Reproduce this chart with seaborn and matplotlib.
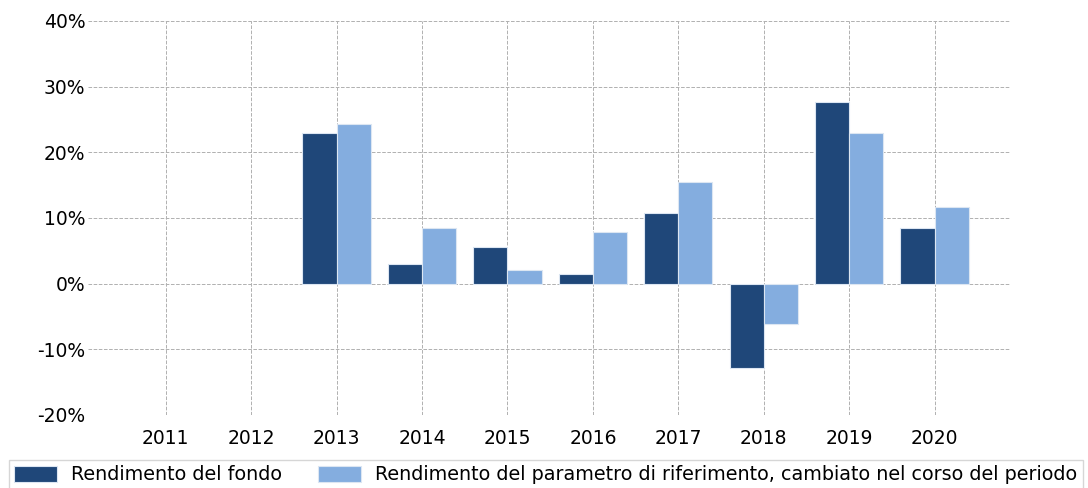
import matplotlib
matplotlib.use('Agg')
import matplotlib.pyplot as plt
import seaborn as sns
import pandas as pd
import numpy as np
from matplotlib.ticker import FuncFormatter

years = ['2011', '2012', '2013', '2014', '2015', '2016', '2017', '2018', '2019', '2020']
fondo = [np.nan, np.nan, 23.0, 3.0, 5.6, 1.4, 10.8, -12.9, 27.7, 8.4]
parametro = [np.nan, np.nan, 24.3, 8.4, 2.0, 7.8, 15.5, -6.2, 23.0, 11.7]
series_names = ['Rendimento del fondo',
                'Rendimento del parametro di riferimento, cambiato nel corso del periodo']
colors = ['#1f4779', '#84addf']

df = pd.DataFrame({
    'anno': years * 2,
    'valore': fondo + parametro,
    'serie': [series_names[0]] * len(years) + [series_names[1]] * len(years),
})

sns.set_style('white')
plt.rcParams['font.family'] = ['DejaVu Sans']
plt.rcParams['text.color'] = 'black'
plt.rcParams['xtick.color'] = 'black'
plt.rcParams['ytick.color'] = 'black'

fig = plt.figure(figsize=(10.88, 4.88), dpi=100)
ax = fig.add_axes([0.081, 0.15, 0.847, 0.807])
sns.barplot(data=df, x='anno', y='valore', hue='serie', palette=colors,
            saturation=1, width=0.8, edgecolor='#dce6f2', linewidth=0.8,
            ax=ax, zorder=2)

ax.set_ylim(-20, 40)
ax.set_xlim(-0.91, 9.88)
ax.set_yticks(range(-20, 41, 10))
ax.yaxis.set_major_formatter(FuncFormatter(lambda v, p: f'{v:.0f}%'))
ax.set_xlabel('')
ax.set_ylabel('')
ax.tick_params(axis='y', labelsize=13.5, length=0, pad=2)
ax.tick_params(axis='x', labelsize=13.5, length=0, pad=10)
ax.grid(True, axis='both', color='#b0b0b0', linestyle='--', linewidth=0.7, zorder=0)
ax.set_axisbelow(True)
for s in ax.spines.values():
    s.set_visible(False)

handles, labels = ax.get_legend_handles_labels()
ax.legend_.remove()
fig.legend(handles, labels, loc='upper left', bbox_to_anchor=(0.008, 0.058), ncol=2,
           fontsize=13.8, frameon=True, fancybox=False, edgecolor='#cccccc',
           handlelength=2.2, handleheight=0.9, columnspacing=1.9, borderpad=0.3,
           handletextpad=0.75, borderaxespad=0)

fig.savefig('out.png', dpi=100)
